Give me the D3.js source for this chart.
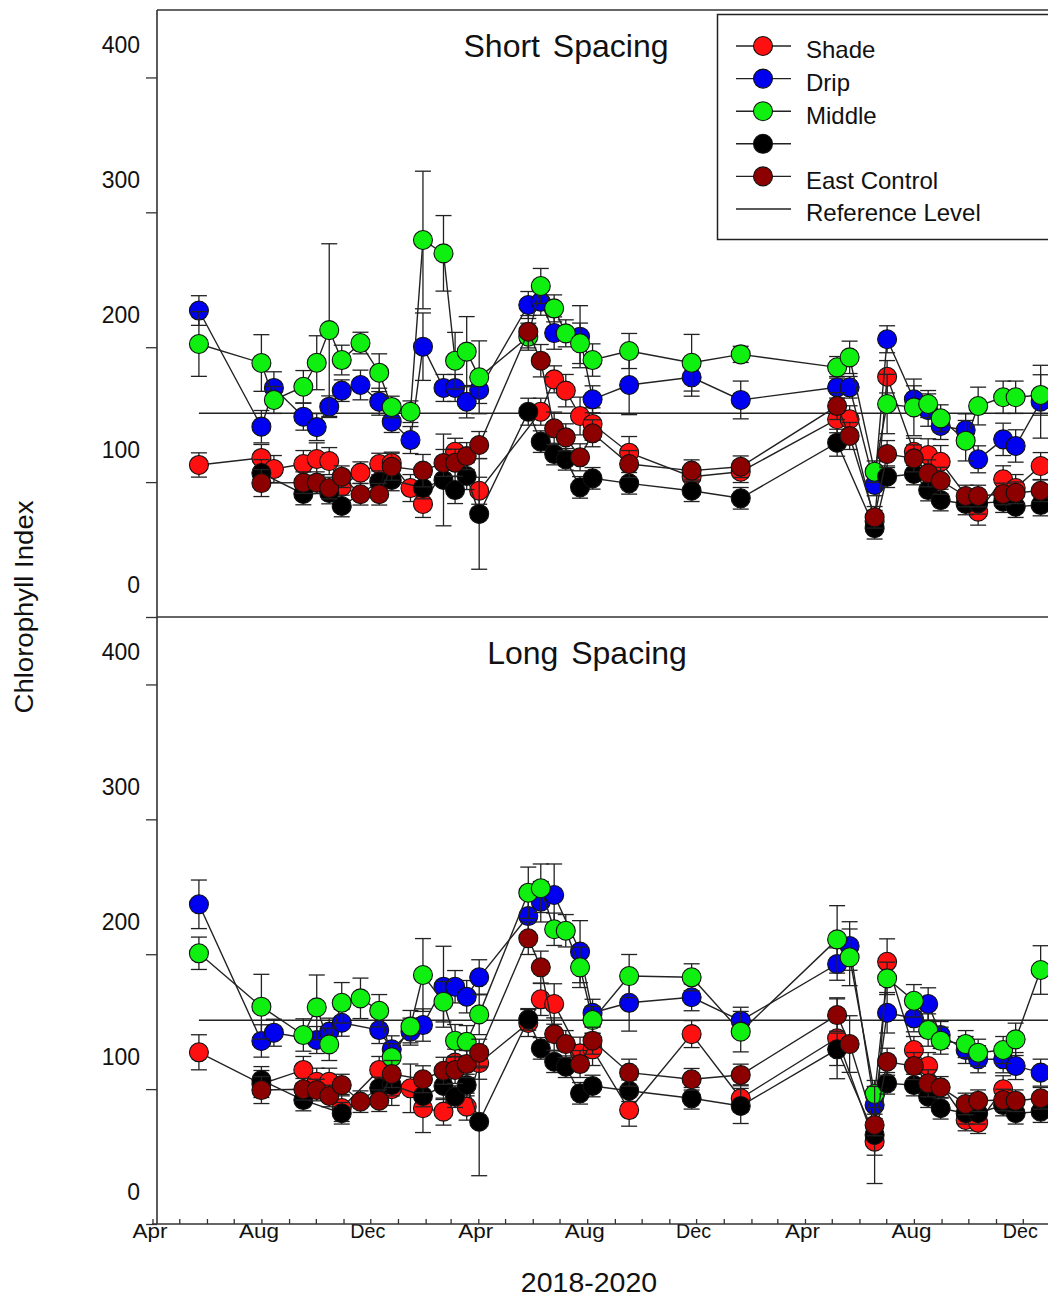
<!DOCTYPE html>
<html>
<head>
<meta charset="utf-8">
<script src="https://cdn.jsdelivr.net/npm/d3@7/dist/d3.min.js"></script>
<style>
  body { margin: 0; background: #fff; }
  text { font-family: "Liberation Sans", Arial, sans-serif; fill: #111; }
</style>
</head>
<body>
<script>
const dates = ["2018-05-23","2018-08-01","2018-08-15","2018-09-17","2018-10-02","2018-10-16","2018-10-30",
  "2018-11-20","2018-12-11","2018-12-25","2019-01-15","2019-01-29","2019-02-21","2019-03-06","2019-03-19",
  "2019-04-02","2019-05-27","2019-06-10","2019-06-25","2019-07-08","2019-07-24","2019-08-07","2019-09-17",
  "2019-11-26","2020-01-20","2020-05-07","2020-05-21","2020-06-18","2020-07-02","2020-08-01","2020-08-17",
  "2020-08-31","2020-09-28","2020-10-12","2020-11-09","2020-11-23","2020-12-21"];

const seriesNames = ["Shade", "Drip", "Middle", "", "East Control"];
const refLevel = 151;
const yTicks = [0, 100, 200, 300, 400];
const panelTitles = ["Short Spacing", "Long Spacing"];

// Short spacing (top panel)
const shortShade = [112.7,117.9,109.7,113.4,117.1,115.6,96.6,107,113.4,114.2,95.6,83.8,null,122.5,null,93.6,null,152.2,176.2,167.8,149,143.1,121.8,104,107.7,146.6,146.6,71,178.1,122.5,120.1,115.1,null,78.1,102.1,95.6,111.9];
const shortShadeErr = [9,10,10,10,12,10,10,8,8,8,10,10,null,10,null,10,null,10,10,12,14,12,12,8,8,10,10,8,12,10,12,12,null,10,10,10,10];
const shortDrip = [227.2,141.1,169.8,148.5,140.8,155.9,167.8,172,159.6,144.8,131.2,200.4,169.8,169.8,159.6,168.3,231.3,233.7,210.5,null,207.8,161.4,172,177.7,160.9,170.3,170.3,97.9,205.9,161.4,153.4,141.6,138.6,116.9,131.7,126.8,159.6];
const shortDripErr = [11,12,12,10,10,8,8,11,10,8,10,25,10,10,12,10,10,10,12,null,23,10,22,14,14,8,8,8,10,10,12,10,12,10,12,12,27];
const shortMiddle = [202.4,188.3,160.9,170.7,188.5,212.7,190.5,203.1,181.1,155.7,152.2,279.5,269.6,190,196.7,177.7,207.8,245.4,228.8,210.3,202.9,190.5,197.2,188.5,194.7,185.1,192.5,107.7,157.9,155.4,157.9,147.3,130.7,156.4,162.9,162.9,164.6];
const shortMiddleErr = [24,21,10,12,20,64,11,8,14,8,8,51,28,21,26,27,10,13,10,10,15,12,13,21,6,8,12,8,22,21,10,10,15,14,12,12,15];
const shortBlack = [null,106.7,null,91.2,null,91.9,82.3,null,100.3,101.6,null,95.6,101.6,94.1,104.5,76.4,152.2,130,120.8,116.9,96.1,102.8,99.1,93.6,88,129.2,null,65.8,104,106,94.1,86.7,83.8,84.3,85.5,81.8,83];
const shortBlackErr = [null,10,null,8,null,8,8,null,8,8,null,8,34,10,10,41,10,8,8,8,8,8,8,8,8,10,null,8,8,8,8,8,8,8,8,8,8];
const shortEast = [null,99.3,null,99.6,99.6,95.6,104,91,91,111.4,null,108.5,114.2,114.4,119.3,127.5,211.5,190,139.9,133.2,118.4,136.2,113.4,108.5,111.4,156.4,134.2,73.9,120.8,117.6,106.5,101,89.7,89.7,91.2,92.1,93.6];
const shortEastErr = [null,10,null,8,8,8,8,8,8,10,null,12,10,10,10,10,12,12,12,10,10,10,10,8,8,10,10,8,10,10,10,10,8,8,8,8,8];

// Long spacing (bottom panel)
const longShade = [127.3,103.8,null,114.2,105.5,105.5,86,null,114.2,99.9,100.6,85.8,83.3,119.6,87,119.3,149,166.6,163.1,null,126.5,129.5,84.5,140.8,93.2,137.7,null,61,194.4,129,117.1,null,77.1,75.1,99.9,null,null];
const longShadeErr = [13,10,null,10,10,10,10,null,10,12,18,18,10,10,10,12,10,12,15,null,12,12,12,10,10,30,null,10,17,10,10,null,8,8,10,null,null];
const longDrip = [237,135.7,141.8,null,136.4,142.6,149.2,null,143.8,129.5,142.6,147.5,175.9,175.9,168.5,182.9,228.3,238.9,243.9,null,201.9,156.6,164,168.1,150.7,192.7,206.1,88.2,156.6,152.5,163.1,140.1,129,122.1,122.1,117.1,112.2];
const longDripErr = [18,12,10,null,10,10,10,null,10,10,10,12,30,12,12,13,15,15,23,null,23,10,21,10,10,12,18,10,15,10,12,10,10,10,10,10,10];
const longMiddle = [200.7,161.1,null,140.1,160.6,133.2,164,167.3,158.1,123.6,146.3,184.6,164.8,135.9,135.1,155.4,245.6,248.9,218.5,217.4,190.3,151.2,183.8,182.9,142.6,211,197.7,96.4,182.1,165.5,143.8,135.9,133.4,127,129,136.9,188.3];
const longMiddleErr = [12,24,null,12,24,12,15,15,12,10,12,27,15,12,12,15,19,18,12,12,15,10,16,10,15,25,21,10,12,12,12,10,10,10,10,12,18];
const longBlack = [null,106.7,null,91.9,null,null,82.1,null,100.8,103,null,94.9,102.3,94.4,103,75.8,151.7,130.2,120.3,116.6,96.9,102.3,98.8,93.2,87.5,129.5,null,66,104.3,103,94.4,85.8,82.1,82.1,88.2,82.1,83.3];
const longBlackErr = [null,10,null,8,null,null,8,null,8,8,null,8,10,8,8,40,8,8,8,8,8,8,8,8,13,12,null,36,8,8,8,8,8,8,8,8,8];
const longEast = [null,99.3,null,99.9,99.3,94.9,103,90.7,91.4,111.2,null,107.3,113.6,114.2,118.6,127,211.8,190.3,140.8,133.4,118.6,135.9,112.2,107.3,110.5,154.9,133.4,73.4,120.3,117.1,104.3,101.3,89,91.4,91.9,91.4,93.2];
const longEastErr = [null,10,null,8,8,8,8,8,8,10,null,10,10,10,10,10,12,12,12,10,10,10,10,8,8,12,21,8,10,10,10,8,8,8,8,8,8];

const colors = ["#ff1010", "#0000f0", "#10f010", "#000000", "#8c0000"];

const panels = [
  { title: panelTitles[0], top: 10, bottom: 617, titleX: 566, values: [shortShade, shortDrip, shortMiddle, shortBlack, shortEast],
    errors: [shortShadeErr, shortDripErr, shortMiddleErr, shortBlackErr, shortEastErr] },
  { title: panelTitles[1], top: 617, bottom: 1224, titleX: 587, values: [longShade, longDrip, longMiddle, longBlack, longEast],
    errors: [longShadeErr, longDripErr, longMiddleErr, longBlackErr, longEastErr] }
];

const width = 1048, height = 1298;
const left = 157, right = 1080;
const parse = d3.utcParse("%Y-%m-%d");
const when = dates.map(parse);
const monthName = d3.utcFormat("%b");

const svg = d3.select("body").append("svg").attr("width", width).attr("height", height);

// 0.8926 px per day, Apr 1 2018 sits under the first label
const x = d3.scaleUtc()
  .domain([new Date(Date.UTC(2018, 3, 1)), new Date(Date.UTC(2021, 3, 1))])
  .range([152.5, 152.5 + 1096 * 0.8926]);

panels.forEach((p, pi) => {
  const y = d3.scaleLinear().domain([0, 450]).range([p.bottom, p.top]);
  const g = svg.append("g");

  // y axis, labels sit about 32px above their ticks like in the original
  const ya = g.append("g").attr("transform", `translate(${left},0)`)
    .call(d3.axisLeft(y).tickValues(yTicks).tickSize(11).tickPadding(6));
  ya.select(".domain").remove();
  ya.selectAll("line").attr("stroke", "#333").attr("stroke-width", 1.3);
  ya.selectAll("text").attr("dy", "0.32em").attr("transform", "translate(0,-32)")
    .style("font-size", "23px").attr("fill", "#111");

  // reference level
  g.append("line")
    .attr("x1", x(when[0])).attr("x2", right)
    .attr("y1", y(refLevel)).attr("y2", y(refLevel))
    .attr("stroke", "#222").attr("stroke-width", 1.4);

  const line = d3.line().x(d => x(d.t)).y(d => y(d.v));

  p.values.forEach((vals, si) => {
    const pts = vals.map((v, i) => ({ t: when[i], v: v, e: p.errors[si][i] })).filter(d => d.v != null);
    const s = g.append("g");

    // error bars
    const eb = s.selectAll(".eb").data(pts.filter(d => d.e)).join("g");
    eb.append("line")
      .attr("x1", d => x(d.t)).attr("x2", d => x(d.t))
      .attr("y1", d => y(d.v - d.e)).attr("y2", d => y(d.v + d.e))
      .attr("stroke", "#222").attr("stroke-width", 1.3);
    [-1, 1].forEach(k => {
      eb.append("line")
        .attr("x1", d => x(d.t) - 8).attr("x2", d => x(d.t) + 8)
        .attr("y1", d => y(d.v + k * d.e)).attr("y2", d => y(d.v + k * d.e))
        .attr("stroke", "#222").attr("stroke-width", 1.3);
    });

    s.append("path").datum(pts).attr("d", line)
      .attr("fill", "none").attr("stroke", "#222").attr("stroke-width", 1.4);

    s.selectAll("circle").data(pts).join("circle")
      .attr("cx", d => x(d.t)).attr("cy", d => y(d.v)).attr("r", 9.5)
      .attr("fill", colors[si]).attr("stroke", "#111").attr("stroke-width", 1.1);
  });

  g.append("text").attr("x", p.titleX).attr("y", p.top + 47)
    .attr("text-anchor", "middle").style("font-size", "32px").style("word-spacing", "4px")
    .text(p.title);

  if (pi === 1) {
    const labelled = d => [3, 7, 11].includes(d.getUTCMonth());
    const xa = g.append("g").attr("transform", `translate(0,${p.bottom})`)
      .call(d3.axisBottom(x).ticks(d3.utcMonth.every(1)).tickSize(-5).tickPadding(0)
        .tickFormat(d => labelled(d) ? monthName(d) : ""));
    xa.select(".domain").remove();
    xa.selectAll("line").attr("stroke", "#333").attr("stroke-width", 1.3);
    // only the Apr / Aug / Dec ticks carry a label
    xa.selectAll(".tick").filter(d => !labelled(d) || x(d) > width - 20).select("text").remove();
    xa.selectAll("text").style("font-size", "20px").attr("fill", "#111")
      .attr("textLength", d => monthName(d) === "Aug" ? 40 : 35)
      .attr("lengthAdjust", "spacingAndGlyphs")
      .attr("dx", -3);
  }
});

// frame
const frame = svg.append("g").attr("stroke", "#333").attr("stroke-width", 1.6);
frame.append("line").attr("x1", left).attr("x2", right).attr("y1", 10).attr("y2", 10);
frame.append("line").attr("x1", left).attr("x2", left).attr("y1", 10).attr("y2", 1224);
frame.append("line").attr("x1", left).attr("x2", right).attr("y1", 617).attr("y2", 617);
frame.append("line").attr("x1", 152).attr("x2", right).attr("y1", 1224).attr("y2", 1224);

// axis titles
svg.append("text").attr("transform", "translate(33,607) rotate(-90)")
  .attr("text-anchor", "middle").style("font-size", "25px")
  .attr("textLength", 213).attr("lengthAdjust", "spacingAndGlyphs")
  .text("Chlorophyll Index");
svg.append("text").attr("x", 589).attr("y", 1292)
  .attr("text-anchor", "middle").style("font-size", "28.5px").text("2018-2020");

// legend
const lg = svg.append("g");
lg.append("rect").attr("x", 717.5).attr("y", 14.5).attr("width", 400).attr("height", 225)
  .attr("fill", "#fff").attr("stroke", "#222").attr("stroke-width", 1.5);
const legendRows = seriesNames.map((n, i) => ({ name: n, color: colors[i] }))
  .concat([{ name: "Reference Level", color: null }]);
legendRows.forEach((r, i) => {
  const ly = 46 + i * 32.6;
  lg.append("line").attr("x1", 736).attr("x2", 791).attr("y1", ly).attr("y2", ly)
    .attr("stroke", "#222").attr("stroke-width", 1.4);
  if (r.color) {
    lg.append("circle").attr("cx", 763).attr("cy", ly).attr("r", 9.5)
      .attr("fill", r.color).attr("stroke", "#111").attr("stroke-width", 1.1);
  }
  lg.append("text").attr("x", 806).attr("y", ly + 4).attr("dy", "0.35em")
    .style("font-size", "24px").text(r.name);
});
</script>
</body>
</html>
